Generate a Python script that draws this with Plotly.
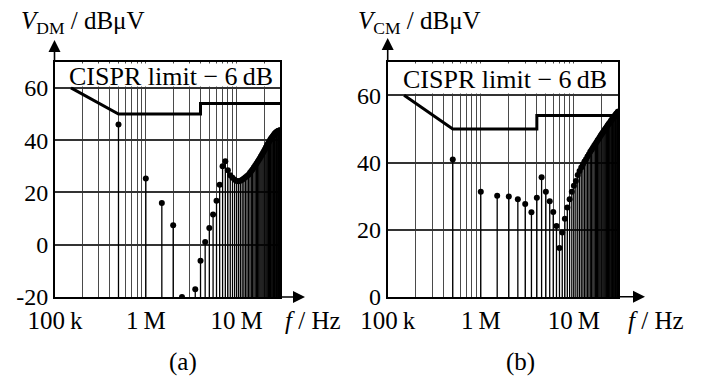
import plotly.graph_objects as go

# ---------------- data ----------------
harmonic_MHz = [0.5 * n for n in range(1, 61)]  # harmonics of 500 kHz up to 30 MHz

dm_dbuv = [46.0, 25.3, 16.0, 7.4, -20.0, -25.0, -17.0, -6.1, 1.0, 6.4,
           11.6, 16.8, 22.9, 30.0, 31.9, 28.5, 26.6, 25.6, 24.8, 24.4,
           24.3, 24.5, 24.8, 25.3, 25.8, 26.3, 26.8, 27.5, 28.2, 28.9,
           29.6, 30.3, 31.0, 31.7, 32.4, 33.1, 33.8, 34.5, 35.2, 35.8,
           36.5, 37.3, 37.9, 38.5, 39.1, 39.7, 40.2, 40.7, 41.1, 41.5,
           41.9, 42.3, 42.6, 42.9, 43.1, 43.3, 43.5, 43.6, 43.7, 43.8]

cm_dbuv = [40.9, 31.3, 30.1, 29.9, 29.1, 27.7, 25.2, 29.5, 35.6, 31.3,
           28.5, 25.3, 21.1, 14.6, 19.2, 23.3, 26.6, 29.1, 31.3, 33.1,
           34.5, 36.3, 37.5, 38.5, 39.5, 40.3, 41.0, 41.8, 42.5, 43.2,
           43.8, 44.4, 45.0, 45.5, 46.0, 46.6, 47.1, 47.6, 48.1, 48.6,
           49.0, 49.4, 49.8, 50.2, 50.6, 51.0, 51.4, 51.7, 52.0, 52.4,
           52.7, 53.0, 53.3, 53.6, 53.9, 54.2, 54.5, 54.7, 55.0, 55.2]

limit_f_Hz = [150e3, 500e3, 4e6, 4e6, 30e6]
limit_dbuv = [60, 50, 50, 54, 54]

grid_f_Hz = [1e5, 2e5, 3e5, 4e5, 5e5, 6e5, 7e5, 8e5, 9e5,
             1e6, 2e6, 3e6, 4e6, 5e6, 6e6, 7e6, 8e6, 9e6,
             1e7, 2e7, 3e7]
major_labels = {1e5: "100\u2009k", 1e6: "1\u2009M", 1e7: "10\u2009M"}

dm_yticks = [-20, 0, 20, 40, 60]
dm_yticktext = ["-20", "0", "20", "40", "60"]
cm_yticks = [0, 20, 40, 60]
cm_yticktext = ["0", "20", "40", "60"]

# ---------------- figure ----------------
W, H = 706, 382
FONT = "Liberation Serif, Times New Roman, DejaVu Serif, serif"
OFF = 8  # page body margin in the browser


def px(x):
    return (x - OFF) / W


def py(y):
    return 1 - (y - OFF) / H


fig = go.Figure()


def add_panel(values, base, xa, ya):
    f_hz = [m * 1e6 for m in harmonic_MHz]
    sx, sy = [], []
    for f, v in zip(f_hz, values):
        sx += [f, f, None]
        sy += [base, v, None]
    fig.add_trace(go.Scatter(x=sx, y=sy, mode="lines",
                             line=dict(color="black", width=1.3),
                             xaxis=xa, yaxis=ya, hoverinfo="skip",
                             showlegend=False))
    fig.add_trace(go.Scatter(x=f_hz, y=values, mode="markers",
                             marker=dict(color="black", size=6),
                             xaxis=xa, yaxis=ya, showlegend=False))
    fig.add_trace(go.Scatter(x=limit_f_Hz, y=limit_dbuv, mode="lines",
                             line=dict(color="black", width=3),
                             xaxis=xa, yaxis=ya, showlegend=False))


add_panel(dm_dbuv, -20, "x", "y")
add_panel(cm_dbuv, 0, "x2", "y2")

ticktext = [major_labels.get(v, "") for v in grid_f_Hz]

xcommon = dict(type="log", range=[5, 7.4771], tickvals=grid_f_Hz,
               ticktext=ticktext, showgrid=True, gridcolor="#4a4a4a",
               gridwidth=1, showline=True, linecolor="black", linewidth=2,
               mirror=True, ticks="", zeroline=False, automargin=False,
               tickfont=dict(family=FONT, size=25, color="black"))
ycommon = dict(showgrid=True, gridcolor="#333333", gridwidth=1.6,
               showline=True, linecolor="black", linewidth=2, mirror=True,
               ticks="", zeroline=False, automargin=False,
               tickfont=dict(family=FONT, size=24, color="black"))

ydom = [py(297), py(61.7)]
fig.update_layout(
    width=W, height=H, margin=dict(l=0, r=0, t=0, b=0),
    paper_bgcolor="white", plot_bgcolor="white",
    xaxis=dict(domain=[px(55), px(280)], anchor="y", **xcommon),
    yaxis=dict(domain=ydom, anchor="x", range=[-20, 70],
               tickvals=dm_yticks, ticktext=dm_yticktext, **ycommon),
    xaxis2=dict(domain=[px(387.7), px(618.3)], anchor="y2", **xcommon),
    yaxis2=dict(domain=ydom, anchor="x2", range=[0, 70],
                tickvals=cm_yticks, ticktext=cm_yticktext, **ycommon),
    font=dict(family=FONT, color="black"),
)

C = dict(xref="paper", yref="paper", xanchor="center", yanchor="middle",
         showarrow=False)
ann = []
# white boxes that hide the grid behind the CISPR label
ann.append(dict(text=" ", x=px(167.5), y=py(74.6), width=221, height=22,
                bgcolor="white", borderpad=0, font=dict(size=4), **C))
ann.append(dict(text=" ", x=px(503), y=py(78.0), width=227, height=29,
                bgcolor="white", borderpad=0, font=dict(size=4), **C))

tf = dict(family=FONT, size=26, color="black")
ann.append(dict(text="CISPR limit \u2212 6\u2009dB", x=px(171), y=py(77),
                font=tf, **C))
ann.append(dict(text="CISPR limit \u2212 6\u2009dB", x=px(505), y=py(79),
                font=tf, **C))

lf = dict(family=FONT, size=25, color="black")
ann.append(dict(text="<i>V</i><sub>DM</sub> / dBμV", x=px(83), y=py(23),
                font=lf, **C))
ann.append(dict(text="<i>V</i><sub>CM</sub> / dBμV", x=px(419), y=py(23),
                font=lf, **C))
ann.append(dict(text="<i>f</i> / Hz", x=px(313), y=py(320), font=lf, **C))
ann.append(dict(text="<i>f</i> / Hz", x=px(656), y=py(320), font=lf, **C))
ann.append(dict(text="(a)", x=px(182.5), y=py(362), font=lf, **C))
ann.append(dict(text="(b)", x=px(520), y=py(362), font=lf, **C))

# axis arrows
arrow = dict(text="", xref="paper", yref="paper", showarrow=True,
             arrowhead=2, arrowsize=1.5, arrowwidth=1.6, arrowcolor="black")
ann.append(dict(x=px(305), y=py(297), ax=-25, ay=0, **arrow))
ann.append(dict(x=px(645), y=py(296.7), ax=-27, ay=0, **arrow))
ann.append(dict(x=px(54.5), y=py(40), ax=0, ay=22, **arrow))
ann.append(dict(x=px(387.7), y=py(38), ax=0, ay=24, **arrow))

fig.update_layout(annotations=ann)
fig.write_html("out.html")
